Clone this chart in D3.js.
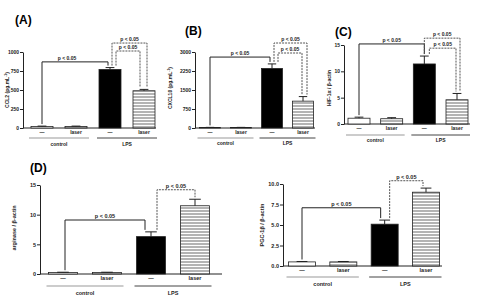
<!DOCTYPE html>
<html lang="en">
<head>
    <meta charset="UTF-8">
    <script src="https://cdnjs.cloudflare.com/ajax/libs/d3/7.8.5/d3.min.js"></script>
    <style>
        body { margin: 0; background: #fff; }
        text { font-family: 'Liberation Sans', Arial, sans-serif; font-weight: bold; }
    </style>
</head>
<body>
<svg id="chart" width="478" height="296"></svg>
<script>
    // bar order: control -, control laser, LPS -, LPS laser
    const treatments = ['—', 'laser', '—', 'laser'];
    const groups = ['control', 'LPS'];

    const ccl2Values = [20, 20, 770, 490];
    const ccl2Errors = [5, 5, 25, 18];
    const ccl2Ticks = [0, 250, 500, 750, 1000];

    const cxcl10Values = [20, 20, 2350, 1060];
    const cxcl10Errors = [5, 5, 180, 180];
    const cxcl10Ticks = [0, 750, 1500, 2250, 3000];

    const hifValues = [1.1, 1.0, 11.4, 4.6];
    const hifErrors = [0.2, 0.2, 1.5, 1.2];
    const hifTicks = [0, 5, 10, 15];

    const argValues = [0.25, 0.25, 6.3, 11.5];
    const argErrors = [0.05, 0.05, 0.8, 1.1];
    const argTicks = [0, 5, 10, 15];

    const pgcValues = [0.5, 0.5, 5.1, 9.0];
    const pgcErrors = [0.05, 0.05, 0.5, 0.5];
    const pgcTicks = [0, 2.5, 5, 7.5, 10];

    // significance brackets: [from bar, to bar, level in data units, dashed]
    const ccl2Sig = [[0, 2, 870, false], [2, 3, 1118, true], [2, 3, 1013, true]];
    const cxcl10Sig = [[0, 2, 2800, false], [2, 3, 3355, true], [2, 3, 2960, true]];
    const hifSig = [[0, 2, 15.2, false], [2, 3, 16.3, true], [2, 3, 14.4, true]];
    const argSig = [[0, 2, 9.1, false], [2, 3, 14.2, true]];
    const pgcSig = [[0, 2, 7.1, false], [2, 3, 10.4, true]];

    const sigLabel = 'p < 0.05';

    const svg = d3.select('#chart');

    const defs = svg.append('defs');
    const pat = defs.append('pattern').attr('id', 'stripe')
        .attr('patternUnits', 'userSpaceOnUse').attr('width', 4).attr('height', 3);
    pat.append('rect').attr('width', 4).attr('height', 3).attr('fill', '#b4b4b4');
    pat.append('rect').attr('y', 2).attr('width', 4).attr('height', 1).attr('fill', '#fff');

    const fills = ['#fff', 'url(#stripe)', '#000', 'url(#stripe)'];

    function drawPanel(p) {
        const x = d3.scalePoint().domain(d3.range(4)).range([p.c0, p.c1]);
        const y = d3.scaleLinear().domain([0, p.max]).range([p.y0, p.y1]);
        const g = svg.append('g');
        const fs = p.fs;

        if (p.title) {
            g.append('text').attr('x', p.title[1]).attr('y', p.title[2])
                .style('font-size', '12px').text(p.title[0]);
        }

        const ax = g.append('g').attr('transform', `translate(${p.ax},0)`)
            .call(d3.axisLeft(y).tickValues(p.ticks).tickSize(3).tickSizeOuter(0)
                .tickPadding(1).tickFormat(p.fmt || d3.format('d')));
        ax.select('.domain').attr('stroke', '#222').attr('stroke-width', 1);
        ax.selectAll('.tick line').attr('stroke', '#222');
        ax.selectAll('text').style('font-size', fs + 'px').attr('fill', '#222')
            .style('font-family', null);

        g.append('line').attr('x1', p.ax).attr('x2', p.xEnd)
            .attr('y1', y(0)).attr('y2', y(0)).attr('stroke', '#222').attr('stroke-width', 1);

        // y label
        g.append('text')
            .attr('transform', `translate(${p.lx},${p.ly}) rotate(-90)`)
            .attr('text-anchor', 'middle').style('font-size', fs + 'px').attr('fill', '#222')
            .html(p.label);

        // bars
        g.selectAll('rect.bar').data(p.values).enter().append('rect')
            .attr('class', 'bar')
            .attr('x', (d, i) => x(i) - p.bw / 2)
            .attr('y', d => y(d))
            .attr('width', p.bw)
            .attr('height', d => y(0) - y(d))
            .attr('fill', (d, i) => fills[i])
            .attr('stroke', '#222').attr('stroke-width', 0.8);

        // error bars
        const eb = g.selectAll('g.err').data(p.values).enter().append('g')
            .attr('stroke', '#222').attr('stroke-width', 1);
        eb.append('line')
            .attr('x1', (d, i) => x(i)).attr('x2', (d, i) => x(i))
            .attr('y1', d => y(d)).attr('y2', (d, i) => y(d + p.errors[i]));
        eb.append('line')
            .attr('x1', (d, i) => x(i) - p.bw * 0.2).attr('x2', (d, i) => x(i) + p.bw * 0.2)
            .attr('y1', (d, i) => y(d + p.errors[i])).attr('y2', (d, i) => y(d + p.errors[i]));

        // treatment labels
        g.selectAll('text.tr').data(treatments).enter().append('text')
            .attr('x', (d, i) => x(i)).attr('y', y(0) + p.d1)
            .attr('text-anchor', 'middle').style('font-size', fs + 'px').attr('fill', '#222')
            .text(d => d);

        // group lines and labels
        groups.forEach((gr, k) => {
            const a = x(2 * k) - p.bw / 2 - 2, b = x(2 * k + 1) + p.bw / 2 + 2;
            g.append('line').attr('x1', a).attr('x2', b)
                .attr('y1', y(0) + p.d2).attr('y2', y(0) + p.d2)
                .attr('stroke', k === 0 ? '#999' : '#444').attr('stroke-width', 1);
            g.append('text').attr('x', (a + b) / 2).attr('y', y(0) + p.d3)
                .attr('text-anchor', 'middle').style('font-size', fs + 'px').attr('fill', '#222')
                .text(gr);
        });

        // significance brackets
        p.sig.forEach((s, k) => {
            const [from, to, level, dashed] = s;
            const off = p.offs[k];
            const xa = x(from) + off[0], xb = x(to) + off[1];
            const ya = y(p.values[from] + p.errors[from]) - 2;
            const yb = y(p.values[to] + p.errors[to]) - 2;
            const yl = y(level);
            g.append('path')
                .attr('d', `M${xa},${ya}V${yl}H${xb}V${yb}`)
                .attr('fill', 'none').attr('stroke', dashed ? '#555' : '#222')
                .attr('stroke-width', 1)
                .attr('stroke-dasharray', dashed ? '2,1' : null);
            g.append('text').attr('x', (xa + xb) / 2 + (off[2] || 0)).attr('y', yl - 2)
                .attr('text-anchor', 'middle').style('font-size', fs + 'px').attr('fill', '#222')
                .text(sigLabel);
        });
    }

    drawPanel({ title: ['(A)', 15, 24], ax: 23, xEnd: 156, y0: 128, y1: 52, max: 1000,
        c0: 42, c1: 144, bw: 22, fs: 5, ticks: ccl2Ticks, values: ccl2Values, errors: ccl2Errors,
        label: 'CCL2 (pg.mL<tspan dy="-2" font-size="3.5">-1</tspan><tspan dy="2">)</tspan>', lx: 9, ly: 90,
        d1: 6, d2: 10, d3: 18, sig: ccl2Sig, offs: [[0, -2, -8], [2, 3], [6, -4]] });

    drawPanel({ title: ['(B)', 185, 35], ax: 195, xEnd: 315, y0: 128, y1: 52, max: 3000,
        c0: 210, c1: 303, bw: 21, fs: 5, ticks: cxcl10Ticks, values: cxcl10Values, errors: cxcl10Errors,
        label: 'CXCL10 (pg.mL<tspan dy="-2" font-size="3.5">-1</tspan><tspan dy="2">)</tspan>', lx: 172, ly: 88,
        d1: 6, d2: 10, d3: 17, sig: cxcl10Sig, offs: [[0, -2], [2, 4], [6, -1]] });

    drawPanel({ title: ['(C)', 335, 36], ax: 344, xEnd: 470, y0: 124, y1: 45, max: 15,
        c0: 359, c1: 457, bw: 22, fs: 5, ticks: hifTicks, values: hifValues, errors: hifErrors,
        label: 'HIF-1α / β-actin', lx: 331, ly: 88,
        d1: 6, d2: 11, d3: 18, sig: hifSig, offs: [[0, 0], [0, 3], [5, -1]] });

    drawPanel({ title: ['(D)', 30, 172], ax: 40, xEnd: 222, y0: 274, y1: 185, max: 15,
        c0: 63, c1: 195, bw: 29, fs: 5.5, ticks: argTicks, values: argValues, errors: argErrors,
        label: 'arginase / β-actin', lx: 16, ly: 228,
        d1: 6, d2: 12, d3: 21, sig: argSig, offs: [[2, -6], [6, 0]] });

    drawPanel({ title: null, ax: 283, xEnd: 442, y0: 266, y1: 184, max: 10,
        c0: 302, c1: 426, bw: 27, fs: 5.5, ticks: pgcTicks, values: pgcValues, errors: pgcErrors,
        fmt: d3.format('.1f'),
        label: 'PGC-1β / β-actin', lx: 264, ly: 225,
        d1: 6, d2: 11, d3: 20, sig: pgcSig, offs: [[0, -4], [5, -3]] });
</script>
</body>
</html>
